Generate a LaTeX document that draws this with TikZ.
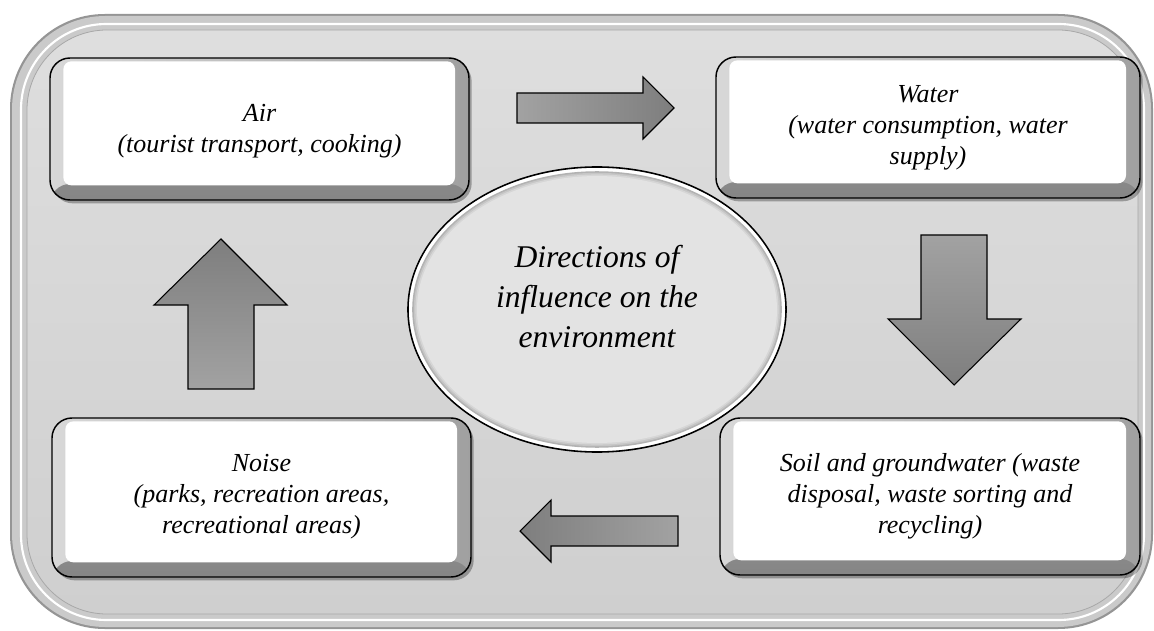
\documentclass[tikz,border=0pt]{standalone}
\usepackage{fontspec}
\setmainfont{Liberation Serif}
\usetikzlibrary{shadows,shapes.geometric}
\definecolor{frOut}{HTML}{959595}
\definecolor{frBand}{HTML}{CACACA}
\definecolor{frEdge}{HTML}{A8A8A8}
\definecolor{panTop}{HTML}{DEDEDE}
\definecolor{panBot}{HTML}{CFCFCF}
\definecolor{bevL}{HTML}{D8D8D8}
\definecolor{bevR}{HTML}{A0A0A0}
\definecolor{bevBt}{HTML}{A4A4A4}
\definecolor{bevBb}{HTML}{858585}
\definecolor{arrL}{HTML}{A2A2A2}
\definecolor{arrD}{HTML}{7E7E7E}
\definecolor{ellRing}{HTML}{A9A9A9}
\definecolor{ellG1}{HTML}{B2B2B2}
\definecolor{ellG2}{HTML}{C6C6C6}
\definecolor{ellG3}{HTML}{D6D6D6}
\definecolor{ellFill}{HTML}{E3E3E3}
\begin{document}
\begin{tikzpicture}[x=0.75pt,y=-0.75pt,
  bevelbox/.style={rectangle, rounded corners=15pt, draw=black, line width=1.1pt,
    inner sep=0pt, outer sep=0pt, left color=bevL, right color=bevR,
    drop shadow={shadow xshift=2pt, shadow yshift=-2.5pt, opacity=0.3, fill=black},
    path picture={
      \shade[top color=bevBt, bottom color=bevBb]
        ([yshift=-1pt]path picture bounding box.south west) rectangle ([yshift=12pt]path picture bounding box.south east);
      \fill[white, rounded corners=6pt]
        ([xshift=10pt,yshift=11pt]path picture bounding box.south west) rectangle
        ([xshift=-10.5pt,yshift=-2.5pt]path picture bounding box.north east);
    }},
  boxtext/.style={font=\fontsize{19.5}{23.25}\selectfont\itshape, align=center, inner sep=0pt},
  ctrtext/.style={font=\fontsize{23.7}{30}\selectfont\itshape, align=center, inner sep=0pt},
  blockarrow/.style={draw=black, line width=0.8pt, line join=miter},
]
\useasboundingbox (0,0) rectangle (1154,631);

% outer frame
\fill[frOut, rounded corners=71pt] (10,14) rectangle (1153,629);
\fill[frBand, rounded corners=70pt] (12,16) rectangle (1151,627);
\draw[white, line width=1.6pt, rounded corners=64pt] (21,24) rectangle (1144,620);
\shade[top color=panTop, bottom color=panBot, draw=frEdge, line width=0.6pt, rounded corners=60pt]
  (27,30) rectangle (1138,614);

% central ellipse
\node[ellipse, draw=black, line width=1.2pt, fill=ellRing, inner sep=0pt, outer sep=0pt,
  minimum width=283.5pt, minimum height=213.75pt] (ctr) at (597,309.5) {};
\fill[white]   (ctr.center) ellipse [x radius=141.0pt, y radius=106.1pt];
\fill[ellG1]   (ctr.center) ellipse [x radius=138.6pt, y radius=103.7pt];
\fill[ellG2]   (ctr.center) ellipse [x radius=137.4pt, y radius=102.5pt];
\fill[ellG3]   (ctr.center) ellipse [x radius=136.2pt, y radius=101.3pt];
\fill[ellFill] (ctr.center) ellipse [x radius=135.0pt, y radius=100.1pt];
\node[ctrtext] (ctrt) at (597,297) {Directions of\\influence on the\\environment};

% boxes
\node[bevelbox, minimum width=314.25pt, minimum height=106.5pt] (air) at (259.5,129) {};
\node[bevelbox, minimum width=318pt, minimum height=105.75pt] (water) at (928,127.5) {};
\node[bevelbox, minimum width=315pt, minimum height=117.75pt] (soil) at (930,496.5) {};
\node[bevelbox, minimum width=314.25pt, minimum height=119.25pt] (noise) at (261.5,497.5) {};

\node[boxtext] (airt) at (259.5,131) {Air\\(tourist transport, cooking)};
\node[boxtext] (watert) at (928,128) {Water\\(water consumption, water\\supply)};
\node[boxtext] (soilt) at (930,496) {Soil and groundwater (waste\\disposal, waste sorting and\\recycling)};
\node[boxtext] (noiset) at (261.5,497) {Noise\\(parks, recreation areas,\\recreational areas)};

% block arrows
\draw[blockarrow, left color=arrL, right color=arrD]
  (517,93) -- (643,93) -- (643,77) -- (674,108) -- (643,139) -- (643,123) -- (517,123) -- cycle;
\draw[blockarrow, top color=arrL, bottom color=arrD]
  (921,235) -- (987,235) -- (987,319) -- (1021,319) -- (954,385) -- (888,319) -- (921,319) -- cycle;
\draw[blockarrow, right color=arrL, left color=arrD]
  (678,516) -- (551,516) -- (551,500) -- (520,531) -- (551,562) -- (551,546) -- (678,546) -- cycle;
\draw[blockarrow, bottom color=arrL, top color=arrD]
  (188,389) -- (254,389) -- (254,305) -- (287,305) -- (221,239) -- (154,305) -- (188,305) -- cycle;
\end{tikzpicture}
\end{document}
